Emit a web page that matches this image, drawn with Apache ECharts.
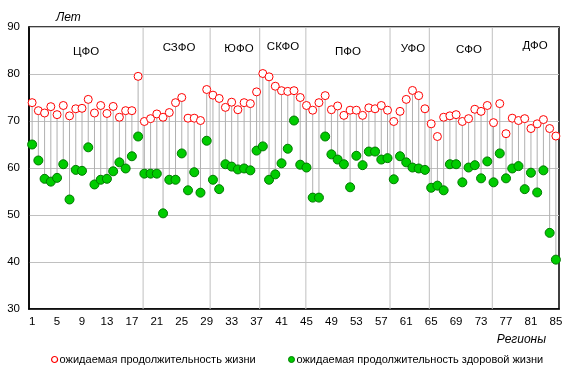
<!DOCTYPE html>
<html>
<head>
<meta charset="utf-8">
<script src="https://cdn.jsdelivr.net/npm/echarts@6/dist/echarts.min.js"></script>
<style>
html,body{margin:0;padding:0;background:#fff;}
#chart{width:575px;height:378px;}
</style>
</head>
<body>
<div id="chart"></div>
<script>
const categories = ['1','2','3','4','5','6','7','8','9','10','11','12','13','14','15','16','17','18','19','20',
'21','22','23','24','25','26','27','28','29','30','31','32','33','34','35','36','37','38','39','40',
'41','42','43','44','45','46','47','48','49','50','51','52','53','54','55','56','57','58','59','60',
'61','62','63','64','65','66','67','68','69','70','71','72','73','74','75','76','77','78','79','80',
'81','82','83','84','85'];

const lifeExpectancy = [
73.9,72.2,71.7,73.05,71.35,73.3,71.1,72.6,72.7,74.6,71.7,73.3,71.6,73.1,70.8,72.2,72.2,79.5,
69.9,70.5,71.5,70.8,71.8,73.9,75.0,70.6,70.6,70.1,76.7,
75.5,74.8,72.9,74.0,72.4,73.9,73.7,76.2,
80.1,79.4,77.4,76.45,76.3,76.45,75.0,
73.3,72.3,73.9,75.4,72.4,73.2,71.2,72.3,72.3,71.2,72.8,72.6,73.3,72.3,
69.9,72.05,74.6,76.5,75.4,72.6,
69.4,66.7,70.8,71.1,71.35,69.9,70.5,72.5,72.05,73.3,
69.65,73.7,67.3,70.6,70.1,70.5,68.4,69.4,70.3,68.4,66.8];

const healthyLifeExpectancy = [
65.0,61.6,57.7,57.1,57.9,60.8,53.3,59.6,59.4,64.4,56.5,57.5,57.7,59.3,61.2,59.9,62.5,66.7,
58.8,58.8,58.8,50.35,57.5,57.5,63.1,55.25,59.1,54.75,65.8,
57.5,55.5,60.8,60.3,59.7,59.9,59.5,63.7,
64.6,57.5,58.65,61.0,64.1,70.1,60.7,
60.1,53.7,53.7,66.7,62.9,61.8,60.8,55.9,62.6,60.6,63.5,63.5,61.8,62.1,
57.6,62.5,61.2,60.1,59.9,59.6,
55.8,56.25,55.25,60.8,60.8,56.95,60.1,60.6,57.8,61.4,
56.95,63.1,57.8,59.9,60.4,55.5,59.0,54.8,59.5,46.2,40.5];

const districtNames = ['ЦФО','СЗФО','ЮФО','СКФО','ПФО','УФО','СФО','ДФО'];
const districtSeparators = [18.8, 29.55, 37.5, 44.9, 58.4, 64.7, 74.8];
const yTicks = [30, 40, 50, 60, 70, 80, 90];

const seriesNames = ['ожидаемая продолжительность жизни', 'ожидаемая продолжительность здоровой жизни'];

const FONT = '"Liberation Sans", Arial, sans-serif';
const chart = echarts.init(document.getElementById('chart'), null, {renderer: 'canvas'});

// label positions (pixels) for district names
const districtLabelPos = [[86,52],[179,48],[239,49],[283,47],[348,52],[413,49],[469,50],[535,46]];

const graphics = districtNames.map((n, i) => ({
  type: 'text', x: districtLabelPos[i][0], y: districtLabelPos[i][1],
  style: {text: n, font: '11.5px ' + FONT, fill: '#000', textAlign: 'center', textVerticalAlign: 'middle'},
  z: 10
}));
graphics.push({type:'text', x: 56, y: 18, style:{text:'Лет', font:'italic 12px ' + FONT, fill:'#000', textVerticalAlign:'middle'}});
graphics.push({type:'text', x: 546, y: 340, style:{text:'Регионы', font:'italic 12px ' + FONT, fill:'#000', textAlign:'right', textVerticalAlign:'middle'}});

const legendBase = {
  top: 349, itemWidth: 6, itemHeight: 6, icon: 'circle', orient: 'horizontal',
  textStyle: {fontFamily: FONT, fontSize: 11, color: '#000', padding: [0,0,0,-3]}
};

chart.setOption({
  animation: false,
  backgroundColor: '#fff',
  grid: {left: 29, right: 16, top: 27, bottom: 69, show: true, borderColor: '#000', borderWidth: 1.5, backgroundColor: 'transparent'},
  legend: [
    Object.assign({}, legendBase, {left: 46,
      data: [{name: seriesNames[0], itemStyle: {color: '#fff', borderColor: '#ff0000', borderWidth: 1.2}}]}),
    Object.assign({}, legendBase, {left: 283,
      data: [{name: seriesNames[1], itemStyle: {color: '#00cc00', borderColor: '#007a00', borderWidth: 1}}]})
  ],
  xAxis: [{
    type: 'category', data: categories, boundaryGap: true,
    axisLine: {show: true, lineStyle: {color: '#000', width: 1.5}},
    axisTick: {show: false},
    axisLabel: {interval: 3, fontFamily: FONT, fontSize: 11.5, color: '#000', margin: 7},
    splitLine: {show: false}
  }, {
    type: 'value', min: 0.5, max: 85.5, show: false, position: 'bottom'
  }],
  yAxis: {
    type: 'value', min: 30, max: 90, interval: 10,
    axisLine: {show: true, lineStyle: {color: '#000', width: 1.5}},
    axisTick: {show: false},
    axisLabel: {fontFamily: FONT, fontSize: 11.5, color: '#000', margin: 9,
      formatter: v => yTicks.includes(v) ? String(v) : ''},
    splitLine: {show: true, lineStyle: {color: '#c0c0c0', width: 1}}
  },
  graphic: graphics,
  series: [
    {
      type: 'custom', name: 'separators', xAxisIndex: 1, silent: true, z: 1,
      data: districtSeparators.map(v => [v]),
      renderItem: (params, api) => {
        const cs = params.coordSys;
        const p = api.coord([api.value(0), 60]);
        return {type: 'line', shape: {x1: p[0], y1: cs.y, x2: p[0], y2: cs.y + cs.height},
          style: {stroke: '#c0c0c0', lineWidth: 1}};
      }
    },
    {
      type: 'custom', name: 'drops', xAxisIndex: 0, silent: true, z: 2,
      data: categories.map((c, i) => [i, lifeExpectancy[i], healthyLifeExpectancy[i]]),
      renderItem: (params, api) => {
        const a = api.coord([api.value(0), api.value(1)]);
        const b = api.coord([api.value(0), api.value(2)]);
        return {type: 'line', shape: {x1: a[0], y1: a[1], x2: b[0], y2: b[1]},
          style: {stroke: '#b0b0b0', lineWidth: 1}};
      }
    },
    {
      type: 'scatter', name: seriesNames[1], xAxisIndex: 0, z: 4,
      data: healthyLifeExpectancy, symbol: 'circle', symbolSize: 9,
      itemStyle: {color: '#00cc00', borderColor: '#007a00', borderWidth: 1, opacity: 1}
    },
    {
      type: 'scatter', name: seriesNames[0], xAxisIndex: 0, z: 5,
      data: lifeExpectancy, symbol: 'circle', symbolSize: 8,
      itemStyle: {color: '#fff', borderColor: '#ff0000', borderWidth: 1, opacity: 1}
    }
  ]
});
</script>
</body>
</html>
